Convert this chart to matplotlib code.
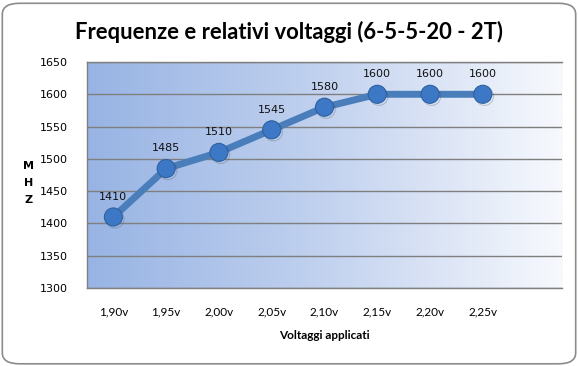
import numpy as np
import matplotlib
matplotlib.use("Agg")
import matplotlib.pyplot as plt
from matplotlib.patches import FancyBboxPatch
import matplotlib.patheffects as pe
from matplotlib.colors import LinearSegmentedColormap

categories = ["1,90v", "1,95v", "2,00v", "2,05v", "2,10v", "2,15v", "2,20v", "2,25v"]
mhz = [1410, 1485, 1510, 1545, 1580, 1600, 1600, 1600]
yticks = [1300, 1350, 1400, 1450, 1500, 1550, 1600, 1650]

fig = plt.figure(figsize=(5.78, 3.66), dpi=100)
fig.patch.set_facecolor("white")

# rounded outer border
border = FancyBboxPatch((0.004, 0.006), 0.992, 0.985,
                        boxstyle="round,pad=0,rounding_size=0.03",
                        transform=fig.transFigure, facecolor="none",
                        edgecolor="#8c8c8c", linewidth=1.2, zorder=-1)
fig.patches.append(border)

ax = fig.add_axes([0.1505, 0.2131, 0.8218, 0.6175])
ax.set_zorder(2)
ax.set_facecolor("none")

# gradient background
cmap = LinearSegmentedColormap.from_list("g", ["#98b4e4", "#c2d2ef", "#f7f9fd"])
grad = np.linspace(0, 1, 256).reshape(1, -1)
ax.imshow(grad, extent=[0, 1, 0, 1], transform=ax.transAxes, cmap=cmap,
          aspect="auto", zorder=0)

x = np.arange(len(categories))
ax.set_xlim(-0.5, len(categories) + 0.5)
ax.set_ylim(1300, 1650)
ax.set_yticks(yticks)
ax.yaxis.grid(True, color="#7f7f7f", linewidth=1.0, zorder=1)
ax.set_axisbelow(True)

ax.spines["right"].set_visible(False)
for s in ["left", "top", "bottom"]:
    ax.spines[s].set_color("#7f7f7f")
    ax.spines[s].set_linewidth(1.0)

ax.plot(x, mhz, color="#4a7ebb", linewidth=5, solid_capstyle="round", zorder=3)
ax.plot(x, mhz, linestyle="none", marker="o", markersize=13,
        markerfacecolor="#3d78c6", markeredgecolor="#2f619f", markeredgewidth=0.8,
        zorder=4,
        path_effects=[pe.SimpleLineShadow(offset=(1.2, -1.5), shadow_color="#444444", alpha=0.25),
                      pe.Normal()])

for xi, v in zip(x, mhz):
    ax.annotate(str(v), (xi, v), xytext=(0, 11), textcoords="offset points",
                ha="center", va="bottom", fontsize=8, family="DejaVu Sans",
                color="#111111", zorder=5)

ax.set_xticks(x)
ax.set_xticklabels(categories, fontsize=8.5, family="Lato")
ax.tick_params(axis="x", length=0, pad=13)
ax.tick_params(axis="y", length=0, pad=14, labelsize=8)
for lab in ax.get_yticklabels():
    lab.set_family("DejaVu Sans")

ax.set_xlabel("Voltaggi applicati", fontsize=8.5, fontweight="bold", family="Lato",
              labelpad=9)

fig.text(0.05, 0.5, "M\nH\nZ", ha="center", va="center", fontsize=8,
         fontweight="bold", family="DejaVu Sans", linespacing=1.9)

fig.text(0.5, 0.912, "Frequenze e relativi voltaggi (6-5-5-20 - 2T)", ha="center",
         va="center", fontsize=15.8, fontweight="bold", family="Lato")

fig.savefig("out.png", dpi=100)
